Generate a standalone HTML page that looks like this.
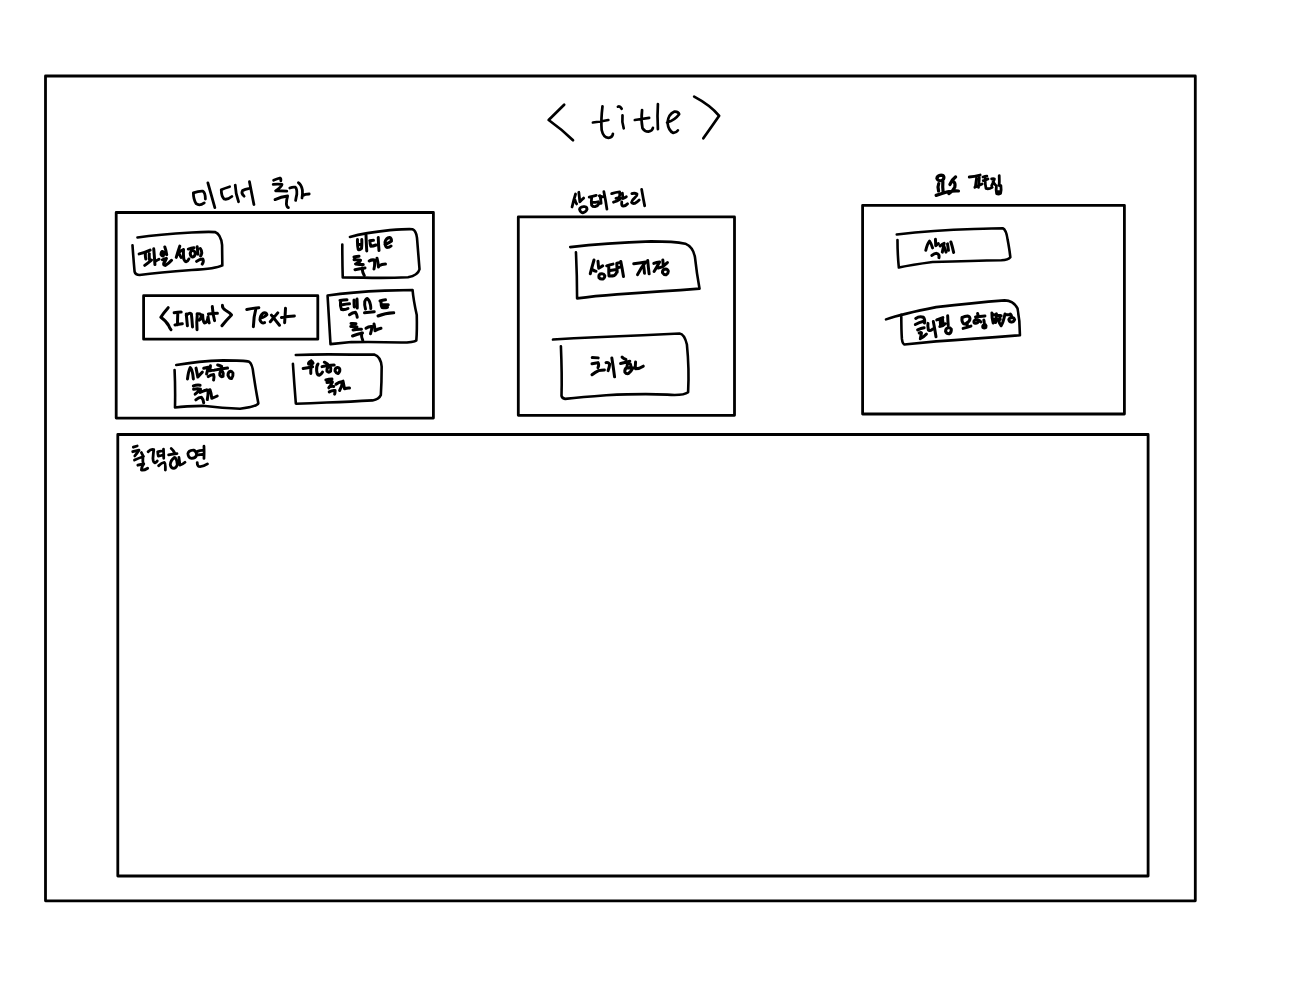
<!DOCTYPE html>
<html>
<head>
<meta charset="utf-8">
<title>title</title>
<style>
html,body{margin:0;padding:0;background:#fff;}
body{width:1308px;height:1000px;overflow:hidden;font-family:"Liberation Sans",sans-serif;}
svg{display:block;}
svg path{fill:none;stroke:#000;stroke-linecap:round;stroke-linejoin:round;}
</style>
</head>
<body>
<svg width="1308" height="1000" viewBox="0 0 1308 1000">
<rect x="0" y="0" width="1308" height="1000" fill="#fff" style="stroke:none"/>

<g style="stroke-width:2.8">
<path d="M45.5,76 L1195.3,76 L1195.3,900.8 L45.5,900.8 Z"/>
<path d="M117.8,434.5 L1148.1,434.5 L1148.1,876 L117.8,876 Z"/>
<path d="M116.2,212.5 L433.4,212.5 L433.4,418.1 L116.2,418.1 Z"/>
<path d="M518.3,216.9 L734.5,216.9 L734.5,415.3 L518.3,415.3 Z"/>
<path d="M862.6,205.3 L1124.4,205.3 L1124.4,414 L862.6,414 Z"/>
<path d="M143.6,295.7 L317.8,295.7 L317.8,339.2 L143.6,339.2 Z"/>
</g>
<!-- title brackets -->
<g transform="translate(530,80) scale(0.16667)" style="stroke-width:16.2"><path d="M205,148 L112,240 Q190,295 258,362 M985,100 Q1080,150 1135,215 Q1090,280 1040,350"/></g>
<!-- title -->
<g transform="translate(585,95) scale(0.08333)" style="stroke-width:32.4"><path d="M210,135 Q190,300 200,420 Q220,510 280,515 Q330,510 335,465 M95,330 Q180,320 280,300 M395,140 Q420,130 440,165 M450,245 Q440,330 465,400 M685,180 Q670,300 690,400 Q715,440 760,440 Q810,430 815,395 M598,300 L770,275 M875,110 Q865,250 875,410 M985,330 Q1080,300 1130,230 Q1120,195 1070,200 Q1000,230 990,330 Q1000,430 1060,455 Q1100,450 1115,425"/></g>
<!-- midi -->
<g transform="translate(185,175) scale(0.0558)" style="stroke-width:50.176"><path d="M345,500 Q260,560 200,515 Q150,440 150,320 Q250,285 320,290 Q365,320 365,430 M410,140 L535,585 M800,210 Q700,240 650,265 Q650,380 700,430 Q760,450 840,385 M900,180 Q905,330 960,480 M1060,380 Q1000,330 1030,280 Q1080,255 1140,245 M1155,120 L1235,530"/></g>
<!-- chuga -->
<g transform="translate(268,172) scale(0.04)" style="stroke-width:70"><path d="M140,205 Q220,170 300,150 Q330,160 320,220 M130,310 Q250,300 350,310 Q340,370 190,470 Q300,465 470,480 M175,690 Q330,620 490,600 Q460,700 460,800 Q470,880 510,890 M545,400 Q620,370 680,380 Q730,420 720,560 Q700,650 690,710 M760,270 Q830,310 860,450 Q870,560 850,650 M870,590 Q920,550 1030,550"/></g>
<!-- sangtae -->
<g transform="translate(569,188) scale(0.03058)" style="stroke-width:91.56"><path d="M215,195 Q150,400 100,620 M200,400 Q220,480 250,520 M320,140 Q340,300 355,450 Q420,380 480,330 M470,610 Q350,630 345,700 Q370,800 450,810 Q560,790 590,700 Q590,620 520,610 Q490,605 470,610 M660,300 Q760,270 890,240 M740,330 Q720,450 740,560 Q780,620 850,610 Q950,580 990,500 M780,470 Q850,470 950,450 M1010,250 Q1040,350 1050,500 M990,260 Q1060,280 1100,290 M1140,120 Q1200,400 1240,690"/></g>
<!-- sangtae -->
<g transform="translate(608,186) scale(0.03058)" style="stroke-width:91.56"><path d="M120,250 Q250,200 380,190 Q400,300 360,400 M180,530 Q300,500 400,430 M260,400 Q320,380 400,400 M470,230 Q480,330 490,410 Q550,380 600,350 M450,520 Q430,640 500,660 Q580,650 640,580 M780,250 Q870,220 950,260 Q960,320 880,380 Q780,460 770,540 Q800,580 870,570 Q960,520 1020,460 M1100,110 Q1150,400 1200,650"/></g>
<!-- yoso2 -->
<g transform="translate(933,172) scale(0.026)" style="stroke-width:123.07692"><path d="M320,120 Q160,130 150,250 Q190,345 320,335 Q425,300 420,200 Q400,120 320,120 M220,450 Q170,560 215,730 M380,370 Q365,550 390,770 M120,900 Q350,830 560,760 Q750,720 980,730 M870,190 Q740,280 650,480 M790,370 Q870,420 840,580 Q780,720 610,830"/></g>
<!-- yoso -->
<g transform="translate(967,170) scale(0.028)" style="stroke-width:100"><path d="M80,250 Q250,230 470,180 M340,300 Q320,450 300,600 M440,270 Q430,450 410,620 M280,620 Q400,560 540,500 M570,250 Q650,230 710,220 M580,380 Q660,360 750,320 M650,300 Q640,500 680,660 Q780,690 900,620 M880,320 Q950,300 980,320 Q940,450 880,560 M930,420 Q970,470 1000,520 M1150,200 Q1160,400 1150,560 M1050,560 Q1030,700 1060,850 Q1130,880 1200,830 Q1230,700 1210,560 M1060,770 L1200,760"/></g>
<!-- output -->
<g transform="translate(130,443) scale(0.03)" style="stroke-width:93.33333"><path d="M110,140 L240,100 M90,290 Q200,260 300,240 Q230,350 160,430 M150,570 Q300,500 450,450 M380,320 Q440,400 430,500 Q420,600 440,690 M260,740 Q360,710 460,700 Q380,800 380,900 Q450,930 590,840"/></g>
<!-- output -->
<g transform="translate(147,445) scale(0.027)" style="stroke-width:103.7037"><path d="M40,250 Q150,130 250,170 Q230,350 220,500 Q230,650 290,660 Q350,640 380,590 M395,255 Q470,230 520,230 M400,260 Q400,350 420,410 Q500,400 560,380 M610,150 Q620,320 620,490 M430,770 Q540,650 640,640 Q690,680 680,800 Q680,880 680,930"/></g>
<!-- output -->
<g transform="translate(168,444) scale(0.03211)" style="stroke-width:87.2"><path d="M100,140 Q170,200 200,270 M20,340 Q150,310 280,300 M200,420 Q80,500 70,650 Q90,760 180,760 Q260,740 290,640 Q280,500 230,430 M340,420 Q360,550 370,660 Q450,640 530,570 M780,190 Q640,200 620,300 Q630,430 740,450 Q860,440 890,350 Q900,230 800,190 Q790,188 780,190 M920,230 Q1000,195 1080,200 M930,340 Q1010,330 1080,320 M1120,70 Q1130,250 1120,450 M910,580 Q910,680 960,700 Q1080,720 1230,620"/></g>
<!-- btn file -->
<g transform="translate(125,220) scale(0.08333)" style="stroke-width:31.2"><path d="M90,305 Q100,450 115,620 Q125,660 175,660 Q400,630 800,600 Q1100,585 1165,545 M150,210 Q400,175 800,150 Q1000,138 1080,145 Q1150,170 1165,300 L1168,545"/></g>
<!-- btn video -->
<g transform="translate(327,200) scale(0.09)" style="stroke-width:28.88889"><path d="M255,410 Q420,365 700,335 Q900,320 950,325 Q990,340 1000,420 Q1015,600 1028,770 Q1010,840 900,858 Q650,870 400,862 L175,860 M170,495 Q170,700 175,860"/></g>
<!-- btn text -->
<g transform="translate(318,280) scale(0.08333)" style="stroke-width:31.2"><path d="M115,185 Q400,145 800,128 L1135,120 Q1145,240 1185,420 Q1190,600 1180,725 Q1150,750 1000,750 Q700,740 400,745 Q250,760 150,770 M115,190 Q130,450 150,770"/></g>
<!-- btn rect -->
<g transform="translate(165,350) scale(0.08333)" style="stroke-width:31.2"><path d="M135,180 Q400,135 700,125 Q950,125 1010,140 Q1050,170 1060,280 Q1090,480 1120,640 Q1100,680 900,705 Q700,700 450,670 Q250,670 120,690 M115,240 Q125,450 120,690"/></g>
<!-- btn circle -->
<g transform="translate(285,345) scale(0.08333)" style="stroke-width:31.2"><path d="M130,120 Q400,108 800,115 L1070,115 Q1150,140 1160,260 Q1160,450 1150,600 Q1130,650 1050,665 Q800,680 500,690 Q300,700 135,705 M95,225 Q110,450 130,700"/></g>
<!-- btn save -->
<g transform="translate(560,230) scale(0.11391)" style="stroke-width:22.82416"><path d="M90,150 Q400,115 800,100 Q1000,100 1100,120 Q1170,150 1185,240 Q1200,380 1225,515 Q900,540 500,565 Q300,580 150,600 M140,195 Q150,400 150,600"/></g>
<!-- btn reset -->
<g transform="translate(545,320) scale(0.12232)" style="stroke-width:21.255"><path d="M65,160 Q400,140 800,125 Q1000,115 1100,110 Q1140,115 1160,200 Q1180,400 1170,590 Q1130,620 1000,610 Q800,600 500,615 Q300,630 165,645 M130,215 Q140,450 135,620 Q140,640 165,645"/></g>
<!-- btn delete -->
<g transform="translate(850,165) scale(0.13761)" style="stroke-width:18.89333"><path d="M340,505 Q600,475 900,465 Q1050,460 1110,460 Q1135,470 1145,540 Q1160,620 1165,670 Q1150,690 1100,692 Q900,695 600,705 Q450,725 355,745 M345,545 Q345,650 355,745"/></g>
<!-- btn clip -->
<g transform="translate(875,290) scale(0.12232)" style="stroke-width:21.255"><path d="M90,240 Q220,195 500,140 Q800,105 1060,85 Q1130,85 1165,150 Q1185,250 1185,370 Q800,400 500,420 Q350,435 240,445 M215,200 Q215,330 220,400 Q225,440 240,445"/></g>
<!-- t file1 -->
<g transform="translate(137,244) scale(0.02676)" style="stroke-width:112.11429"><path d="M80,370 Q280,330 490,230 M320,330 Q300,450 330,560 M460,360 Q450,480 470,600 M290,800 Q420,700 540,600 M625,180 Q650,450 670,770 M700,640 Q760,600 820,570 M940,280 Q890,320 900,400 Q930,460 980,440 Q1010,380 990,310 Q970,270 940,280 M1040,110 Q1090,250 1110,400 M950,590 Q1030,560 1100,540 Q1060,640 1000,720 Q980,800 1060,800 Q1180,740 1290,610"/></g>
<!-- t file2 -->
<g transform="translate(172,244) scale(0.02676)" style="stroke-width:112.11429"><path d="M290,80 Q220,280 160,500 M240,330 Q300,420 340,500 M250,320 Q340,240 430,210 M430,210 Q420,380 440,560 Q480,660 530,660 Q600,630 630,560 M610,190 Q720,160 820,140 M760,160 Q700,300 680,350 Q690,470 770,490 Q860,470 870,350 Q860,270 800,250 M940,100 Q960,250 970,380 M1060,170 Q1120,250 1110,350 Q1090,420 1070,450 M920,650 Q1030,560 1150,560 Q1200,650 1130,750"/></g>
<!-- t video -->
<g transform="translate(350,230) scale(0.05)" style="stroke-width:60"><path d="M150,190 Q145,300 165,390 Q200,400 230,370 Q240,280 235,190 M160,290 L230,285 M320,100 Q325,260 335,420 M395,215 Q440,205 470,205 M400,220 Q400,290 415,325 Q470,320 520,300 M565,150 Q570,300 580,410 M700,290 Q780,260 830,220 Q830,160 790,150 Q720,160 700,240 Q700,330 740,350 Q790,350 820,320 M80,540 Q130,530 180,525 M80,595 Q150,590 210,605 Q200,640 110,680 Q180,690 265,690 M100,795 Q200,770 300,760 M240,760 Q250,850 285,910 M385,620 Q430,590 490,600 Q500,700 480,780 M540,565 Q560,640 570,740 M570,720 Q640,680 710,680"/></g>
<!-- t input1 -->
<g transform="translate(158,302) scale(0.05657)" style="stroke-width:53.02703"><path d="M180,100 Q100,190 50,270 Q150,340 190,420 Q210,470 230,490 M285,190 Q350,175 410,175 M350,185 Q345,300 345,400 M300,405 Q370,395 430,385 M500,210 Q510,330 520,420 M500,240 Q550,180 590,210 Q600,300 610,440 M695,210 Q680,350 690,490 M690,215 Q740,195 765,230 Q770,290 730,320 M790,230 Q790,330 820,370 Q870,370 885,260 M885,260 Q890,320 905,370 M960,80 Q970,220 1000,330 M890,210 Q980,205 1050,200 M1140,60 Q1130,110 1200,150 Q1270,190 1300,230 Q1200,330 1130,420"/></g>
<!-- t input2 -->
<g transform="translate(225,302) scale(0.05734)" style="stroke-width:52.32"><path d="M380,130 Q480,110 590,100 M540,110 Q500,250 495,430 M620,280 Q700,260 730,220 Q720,180 670,190 Q610,230 610,310 Q630,380 690,360 M810,230 Q880,320 950,405 M920,190 Q860,260 790,345 M1055,110 Q1050,230 1040,360 M985,270 Q1100,250 1210,245"/></g>
<!-- t text -->
<g transform="translate(335,295) scale(0.05)" style="stroke-width:60"><path d="M100,110 Q170,95 240,95 M110,130 Q100,230 130,290 Q200,300 260,270 M150,195 Q220,180 290,175 M380,100 Q380,180 385,240 M440,80 Q445,170 445,260 M290,395 Q350,350 410,345 Q440,390 445,445 M610,280 Q585,200 595,130 Q620,70 645,70 Q690,100 710,200 Q718,250 715,270 M590,355 L785,335 M900,120 Q950,100 1010,95 M920,140 Q920,220 940,250 Q1000,260 1050,245 M940,190 Q1010,190 1065,195 M860,420 Q1000,360 1175,355 M320,570 Q380,565 420,575 M315,630 Q380,625 440,640 M360,700 Q440,680 530,685 M350,820 Q450,780 550,760 M530,760 Q525,850 555,905 M620,665 Q680,620 740,630 Q735,700 710,775 M780,580 Q800,650 800,715 Q850,680 920,665"/></g>
<!-- t rect -->
<g transform="translate(183,360) scale(0.045)" style="stroke-width:66.66667"><path d="M100,420 Q120,250 160,170 Q210,200 230,420 M290,180 Q310,280 330,380 Q380,320 430,270 M460,185 Q540,165 610,150 M560,175 Q540,240 525,310 M610,130 Q600,190 595,240 Q650,230 700,225 M560,370 Q620,320 680,320 Q700,380 680,445 M770,110 Q810,120 860,140 M700,225 Q820,205 990,180 M850,250 Q810,270 820,340 Q850,390 890,360 Q910,300 880,260 Q860,250 850,250 M1060,250 Q1000,260 1000,340 Q1030,420 1080,410 Q1120,360 1110,290 Q1090,250 1060,250 M230,575 Q300,550 380,560 M235,650 Q330,630 390,650 Q340,700 270,760 M380,720 Q450,690 520,670 M285,885 Q350,830 410,830 Q450,870 460,950 M470,680 Q520,660 560,670 Q560,780 540,880 M600,660 Q630,740 640,850 Q700,830 760,800"/></g>
<!-- t circle -->
<g transform="translate(300,355) scale(0.045)" style="stroke-width:66.66667"><path d="M250,130 Q180,160 190,200 Q250,220 290,180 Q280,140 250,130 M70,300 Q170,280 280,260 M250,250 Q235,330 240,410 M400,200 Q360,250 370,350 Q380,450 430,450 Q480,420 500,380 M540,160 Q580,180 610,200 M490,260 Q600,220 760,220 M630,270 Q590,300 600,360 Q640,400 680,360 Q700,300 670,260 Q650,260 630,270 M820,280 Q770,300 780,360 Q810,420 850,410 Q900,360 880,300 Q860,270 820,280 M575,555 Q640,540 710,535 M600,610 Q660,610 720,600 Q700,660 640,730 M680,700 Q720,690 750,700 M650,820 Q720,780 780,790 Q780,840 770,870 M800,650 Q860,600 950,590 Q930,700 880,790 M955,580 Q975,680 990,750 Q1050,730 1100,735"/></g>
<!-- t save1 -->
<g transform="translate(586,257) scale(0.025)" style="stroke-width:120"><path d="M320,120 Q240,400 170,670 M270,510 Q330,560 400,570 M480,170 Q490,320 510,450 Q600,400 670,350 M560,680 Q500,720 520,830 Q580,900 680,880 Q760,830 750,740 Q720,670 640,670 Q590,670 560,680"/></g>
<!-- t save2 -->
<g transform="translate(605,257) scale(0.02101)" style="stroke-width:142.8"><path d="M80,420 Q230,370 380,340 M180,450 Q175,700 190,900 M240,640 Q400,620 540,600 M200,900 Q330,910 450,880 Q540,800 560,720 M560,300 Q570,500 580,720 M620,280 Q680,270 740,260 M640,500 L720,480 M750,210 Q820,550 880,930"/></g>
<!-- t save3 -->
<g transform="translate(632,257) scale(0.02905)" style="stroke-width:103.26316"><path d="M60,235 Q250,200 470,170 Q300,380 190,610 M400,300 Q420,420 430,560 M540,120 Q560,350 590,580 M750,220 Q850,180 950,170 Q880,300 760,500 M900,380 Q990,350 1060,330 M1060,100 Q1070,250 1080,310 Q1150,250 1220,190 M1120,420 Q1040,450 1050,540 Q1100,620 1180,610 Q1250,570 1250,490 Q1230,420 1160,415 Q1140,415 1120,420"/></g>
<!-- t reset0 -->
<g transform="translate(589,355) scale(0.023)" style="stroke-width:130.43478"><path d="M140,110 Q280,110 400,125 M130,380 Q260,360 390,330 Q450,430 390,550 M130,860 Q280,740 420,680 Q540,660 670,650 M740,330 Q830,300 900,400 Q880,550 830,680"/></g>
<!-- t reset -->
<g transform="translate(585,352) scale(0.04969)" style="stroke-width:60.36923"><path d="M540,120 Q570,300 595,500"/></g>
<!-- t reset2 -->
<g transform="translate(618,355) scale(0.02141)" style="stroke-width:140.14286"><path d="M190,100 Q260,170 370,210 M120,400 Q300,350 550,290 M520,390 Q430,400 425,510 Q440,610 515,610 Q600,585 600,485 Q590,400 520,390 M430,560 Q300,650 320,800 Q380,890 480,870 Q600,800 700,600 M820,330 Q800,500 820,640 Q1000,640 1180,520"/></g>
<!-- t delete -->
<g transform="translate(920,235) scale(0.03058)" style="stroke-width:98.1"><path d="M190,500 Q240,280 310,200 Q370,280 410,420 M505,140 Q510,250 515,350 Q560,300 600,280 M390,670 Q470,600 540,600 Q640,620 620,740 M660,360 Q720,300 790,270 Q760,420 730,560 M790,380 L850,560 M900,290 L930,500 M1010,230 Q1060,380 1100,570"/></g>
<!-- t clip -->
<g transform="translate(910,310) scale(0.03823)" style="stroke-width:78.48"><path d="M150,220 Q250,150 350,190 Q400,250 380,340 M140,380 Q250,320 340,300 M200,520 Q290,480 370,465 M240,600 Q290,580 300,600 Q280,700 270,750 Q350,720 430,630 M470,350 Q460,420 480,520 Q540,560 590,500 M610,300 Q650,500 680,700 M700,260 Q780,230 860,200 M790,260 Q795,350 800,420 M850,240 L870,400 M780,430 Q860,430 920,360 M985,150 Q990,280 1000,400 M1000,460 Q930,480 930,560 Q960,630 1030,620 Q1090,580 1080,500 Q1050,460 1000,460"/></g>
<!-- t mode -->
<g transform="translate(959,310) scale(0.02294)" style="stroke-width:130.8"><path d="M130,330 Q110,500 200,600 Q300,620 340,560 Q470,500 480,380 Q470,270 380,260 Q250,270 130,330 M360,540 Q370,620 350,700 M180,800 Q350,760 520,700 M810,150 Q830,220 850,300 M720,300 Q900,280 1130,260 M700,430 Q630,480 660,560 Q740,600 800,560 Q860,500 820,440 Q760,410 700,430 M820,440 Q900,450 950,520 M1080,440 Q1100,500 1100,560 M1090,640 Q1020,680 1040,760 Q1100,800 1170,760 Q1200,680 1150,640 Q1120,630 1090,640"/></g>
<!-- t change -->
<g transform="translate(990,308) scale(0.02141)" style="stroke-width:140.14286"><path d="M90,230 Q80,450 150,700 M300,270 Q300,450 260,680 M180,320 L520,360 M120,520 L480,520 M470,350 Q460,550 420,650 M400,600 Q450,750 520,830 Q620,680 700,280 M700,320 Q800,300 930,300 M950,280 Q1000,340 1010,400 M1050,440 Q900,450 880,540 Q900,650 1000,660 Q1120,640 1150,540 Q1130,450 1050,440"/></g>
</svg>
</body>
</html>
